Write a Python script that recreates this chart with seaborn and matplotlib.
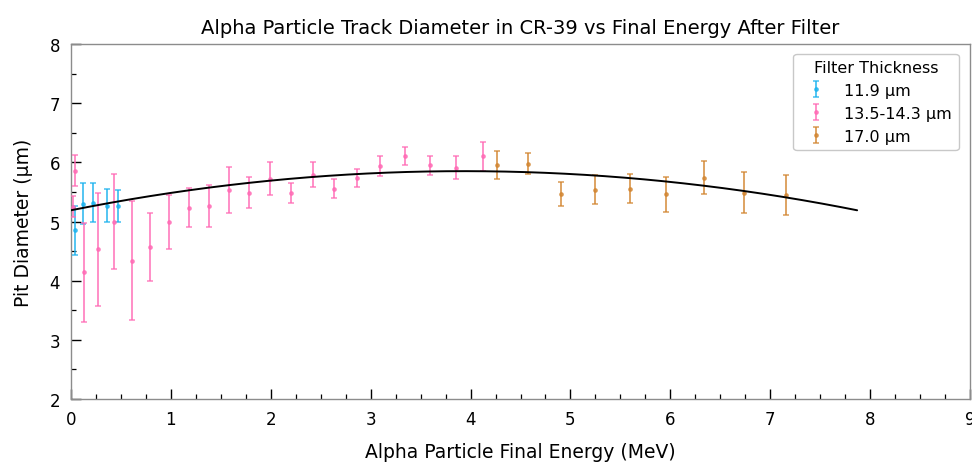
import numpy as np
import pandas as pd
import matplotlib
matplotlib.use("Agg")
import matplotlib.pyplot as plt
import seaborn as sns
from matplotlib.ticker import MultipleLocator

# ---- data ----
e_119 = [0.04, 0.12, 0.22, 0.36, 0.47]
d_119 = [4.85, 5.30, 5.32, 5.27, 5.27]
err_119 = [0.42, 0.35, 0.33, 0.28, 0.27]

e_135 = [0.02, 0.04, 0.13, 0.27, 0.43, 0.61, 0.79, 0.98, 1.18, 1.38, 1.58, 1.78,
         1.99, 2.20, 2.42, 2.63, 2.86, 3.09, 3.34, 3.59, 3.85, 4.12]
d_135 = [5.25, 5.86, 4.14, 4.53, 5.00, 4.34, 4.57, 4.99, 5.23, 5.26, 5.53, 5.49,
         5.72, 5.48, 5.79, 5.55, 5.73, 5.94, 6.11, 5.95, 5.91, 6.10]
err_135 = [0.18, 0.26, 0.84, 0.96, 0.81, 1.00, 0.58, 0.45, 0.33, 0.36, 0.39, 0.26,
           0.28, 0.17, 0.21, 0.16, 0.15, 0.17, 0.15, 0.16, 0.20, 0.24]

e_170 = [4.26, 4.58, 4.91, 5.25, 5.60, 5.96, 6.34, 6.74, 7.16]
d_170 = [5.955, 5.98, 5.46, 5.54, 5.555, 5.46, 5.74, 5.49, 5.45]
err_170 = [0.23, 0.18, 0.20, 0.24, 0.25, 0.30, 0.28, 0.35, 0.34]

labels = ["11.9 \u00b5m", "13.5-14.3 \u00b5m", "17.0 \u00b5m"]
colors = ["#1ab2ee", "#ff69b4", "#d2842f"]

# quadratic fit coefficients (c0 + c1*E + c2*E^2)
fit_coef = [5.19, 0.336, -0.0427]
fit_range = [0.0, 7.87]

# ---- plot ----
sns.set_theme(style="white")
plt.rcParams["font.family"] = ["DejaVu Sans"]
plt.rcParams.update({"text.color": "black", "axes.labelcolor": "black",
                     "xtick.color": "black", "ytick.color": "black"})

fig = plt.figure(figsize=(9.72, 4.64), dpi=100)
ax = fig.add_axes([71 / 972, 1 - 400 / 464, (970 - 71) / 972, (400 - 45) / 464])

groups = [(e_119, d_119, err_119), (e_135, d_135, err_135), (e_170, d_170, err_170)]
for (e, d, er), lab, col in zip(groups, labels, colors):
    ax.errorbar(e, d, yerr=er, fmt="o", color=col, ms=2.4, elinewidth=1.4,
                capsize=2.5, capthick=1.2, alpha=0.75, label=lab, zorder=3)

ex = np.linspace(fit_range[0], fit_range[1], 200)
fit_df = pd.DataFrame({"E": ex, "D": np.polyval(fit_coef[::-1], ex)})
sns.lineplot(data=fit_df, x="E", y="D", color="black", lw=1.4, ax=ax, zorder=4)

ax.set_xlim(0, 9)
ax.set_ylim(2, 8)
ax.xaxis.set_major_locator(MultipleLocator(1))
ax.xaxis.set_minor_locator(MultipleLocator(0.25))
ax.yaxis.set_major_locator(MultipleLocator(1))
ax.yaxis.set_minor_locator(MultipleLocator(0.5))
ax.tick_params(which="major", direction="in", length=7.5, width=1.0, color="black",
               labelcolor="black", labelsize=12, left=True, bottom=True,
               top=False, right=False, pad=8)
ax.tick_params(which="minor", direction="in", length=3.5, width=0.9, color="black",
               left=True, bottom=True, top=False, right=False)
for sp in ax.spines.values():
    sp.set_color("#8c8c8c")
    sp.set_linewidth(1.0)

ax.set_xlabel("Alpha Particle Final Energy (MeV)", fontsize=13.5, labelpad=10, color="black")
ax.set_ylabel("Pit Diameter (\u00b5m)", fontsize=13.5, labelpad=12, color="black")
ax.set_title("Alpha Particle Track Diameter in CR-39 vs Final Energy After Filter",
             fontsize=14, pad=8, color="black")

leg = ax.legend(title="Filter Thickness", loc="upper right", fontsize=11.5,
                title_fontsize=11.5, frameon=True, borderaxespad=0.6,
                bbox_to_anchor=(0.998, 1.0))
leg.get_frame().set_edgecolor("#bbbbbb")
for t in leg.get_texts():
    t.set_color("black")
leg.get_title().set_color("black")

fig.savefig("out.png", dpi=100)
